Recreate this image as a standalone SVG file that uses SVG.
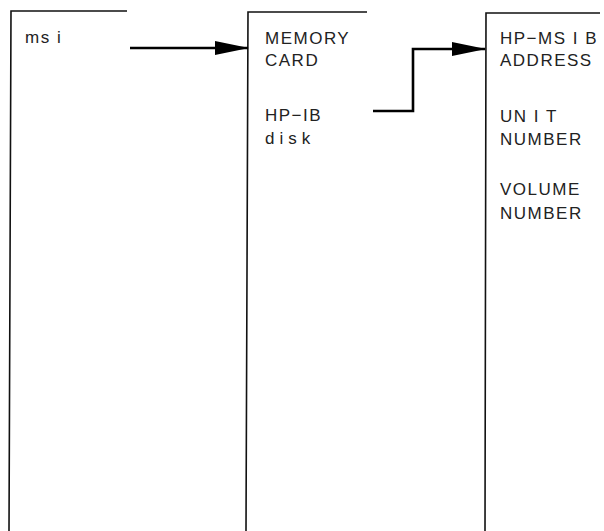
<svg xmlns="http://www.w3.org/2000/svg" width="604" height="531" viewBox="0 0 604 531">
<defs>
<marker id="ah" markerWidth="34" markerHeight="16" refX="33" refY="8" orient="auto" markerUnits="userSpaceOnUse">
<path d="M0,1 L34,8 L0,15 Z" fill="#000"/>
</marker>
<style>
.panel{fill:none;stroke:#111;stroke-width:1.6}
.t{font-family:"Liberation Sans",Arial,sans-serif;font-size:17px;fill:#222;letter-spacing:1.5px}
.wide{letter-spacing:5px}
.conn{fill:none;stroke:#000;stroke-width:2.6}
</style>
</defs>
<rect width="604" height="531" fill="#fff"/>
<g id="panel-msi">
<path class="panel" d="M9,531 L11,11 L127,11"/>
<text class="t" x="25" y="43">ms i</text>
</g>
<g id="panel-memory">
<path class="panel" d="M246,531 L248,12 L367,12"/>
<text class="t" x="265" y="44">MEMORY</text>
<text class="t" x="265" y="66">CARD</text>
<text class="t" x="265" y="121">HP−IB</text>
<text class="t wide" x="265" y="144">disk</text>
</g>
<g id="panel-address">
<path class="panel" d="M485,531 L486,13 L600,13"/>
<text class="t" x="500" y="44">HP−MS I B</text>
<text class="t" x="500" y="66">ADDRESS</text>
<text class="t" x="500" y="122">UN I T</text>
<text class="t" x="500" y="145">NUMBER</text>
<text class="t" x="500" y="195">VOLUME</text>
<text class="t" x="500" y="219">NUMBER</text>
</g>
<g id="connectors">
<path class="conn" d="M130,48 L248,48" marker-end="url(#ah)"/>
<path class="conn" d="M373,111 L413,111 L413,49 L485,49" marker-end="url(#ah)"/>
</g>
</svg>
